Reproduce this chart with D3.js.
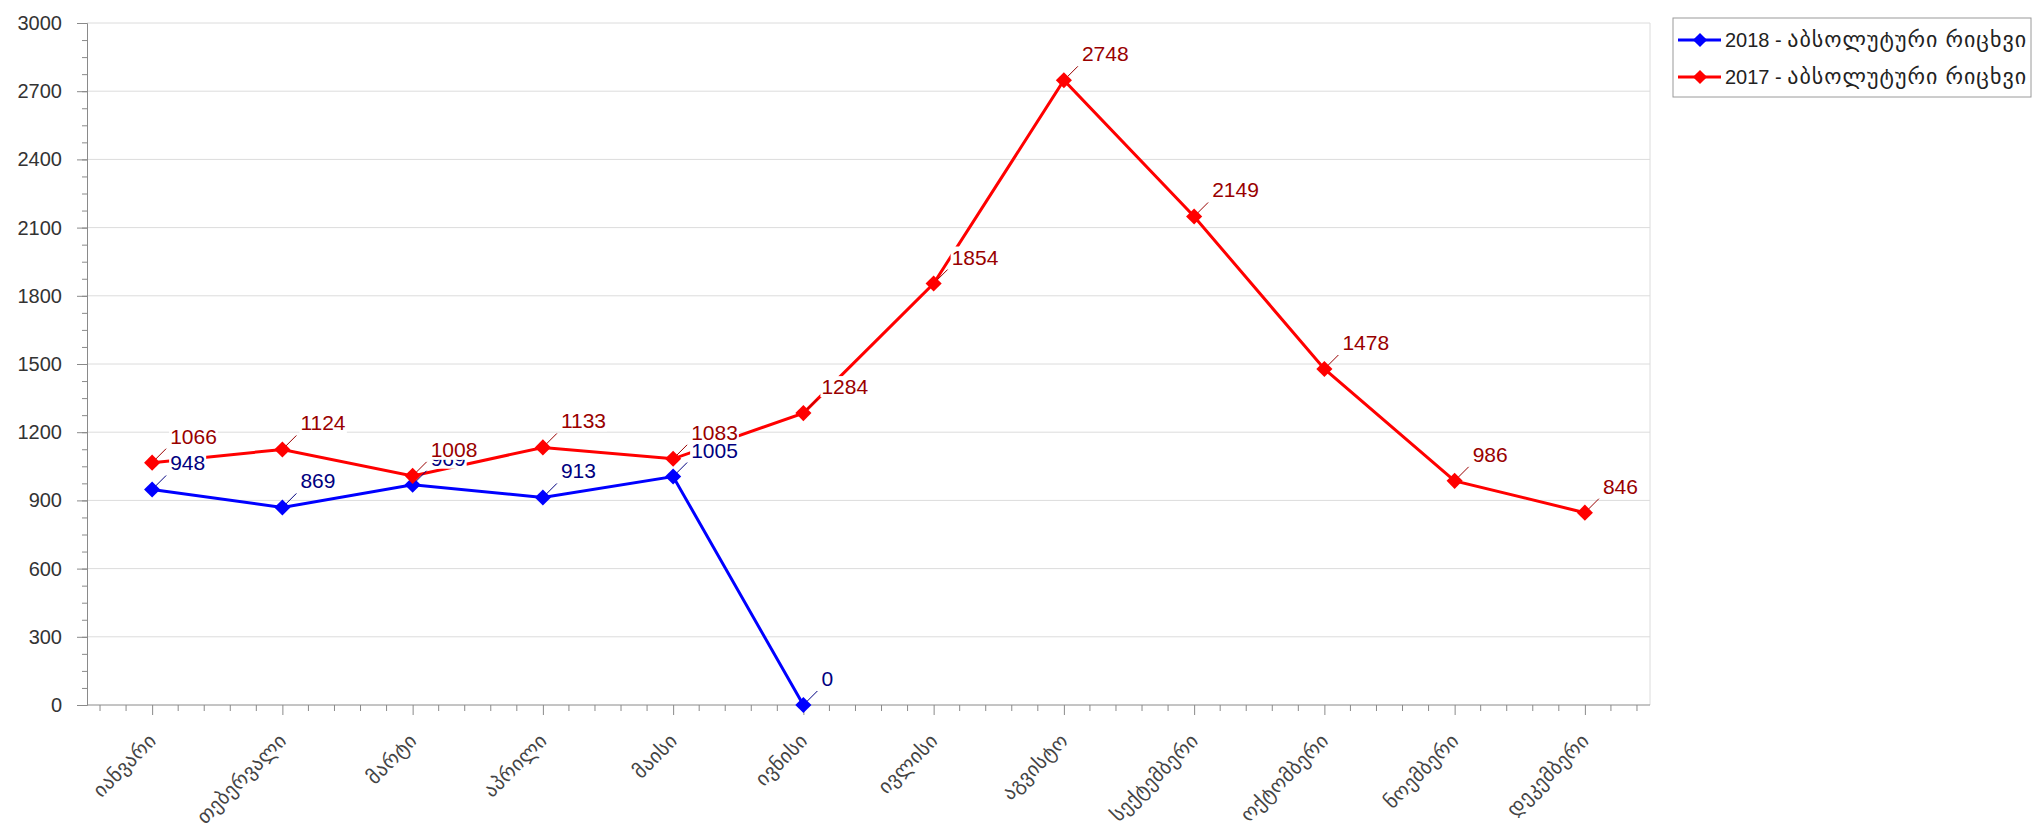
<!DOCTYPE html>
<html>
<head>
<meta charset="utf-8">
<script src="https://cdn.jsdelivr.net/npm/d3@7"></script>
<style>
  body { margin: 0; background: #fff; }
  svg text { font-family: "Liberation Sans", "DejaVu Sans", sans-serif; }
  .axis path, .axis line { stroke: #8a8a8a; }
  .grid-line { stroke: #dcdcdc; }
</style>
</head>
<body>
<script>
const width = 2033, height = 829;
const margin = {top: 23, right: 383, bottom: 124, left: 87};

const categories = ['იანვარი', 'თებერვალი', 'მარტი', 'აპრილი', 'მაისი', 'ივნისი',
    'ივლისი', 'აგვისტო', 'სექტემბერი', 'ოქტომბერი', 'ნოემბერი', 'დეკემბერი'];
const values2018 = [948, 869, 969, 913, 1005, 0];
const values2017 = [1066, 1124, 1008, 1133, 1083, 1284, 1854, 2748, 2149, 1478, 986, 846];
const yTicks = [0, 300, 600, 900, 1200, 1500, 1800, 2100, 2400, 2700, 3000];
const seriesYears = ['2018', '2017'];
const seriesSuffix = 'აბსოლუტური რიცხვი';

const series = [
    {year: seriesYears[0], values: values2018, color: '#0000ff', labelColor: '#000080'},
    {year: seriesYears[1], values: values2017, color: '#ff0000', labelColor: '#990000'}
];

const svg = d3.select('body').append('svg')
    .attr('width', width)
    .attr('height', height);

const x = d3.scalePoint().domain(categories)
    .range([margin.left, width - margin.right]).padding(0.5);
const y = d3.scaleLinear().domain([0, 3000]).range([height - margin.bottom, margin.top]);

// gridlines
svg.append('g').selectAll('line')
    .data(yTicks.slice(1))
    .join('line')
    .classed('grid-line', true)
    .attr('x1', margin.left).attr('x2', width - margin.right)
    .attr('y1', d => y(d)).attr('y2', d => y(d));

svg.append('line')
    .classed('grid-line', true)
    .attr('x1', width - margin.right).attr('x2', width - margin.right)
    .attr('y1', margin.top).attr('y2', height - margin.bottom);

// y axis: minor then major
svg.append('g')
    .attr('class', 'axis')
    .attr('transform', 'translate(' + margin.left + ',0)')
    .call(d3.axisLeft(y).tickValues(d3.range(0, 3001, 75)).tickSize(5).tickSizeOuter(0).tickFormat(''));

const yAxis = svg.append('g')
    .attr('class', 'axis')
    .attr('transform', 'translate(' + margin.left + ',0)')
    .call(d3.axisLeft(y).tickValues(yTicks).tickSize(10).tickSizeOuter(0).tickPadding(15).tickFormat(d3.format('d')));
yAxis.selectAll('text')
    .attr('fill', '#333')
    .style('font-size', '20px');

// x axis: minor ticks at fifths of a step
const step = x.step();
const minorX = [];
categories.forEach(c => {
    [-2, -1, 1, 2].forEach(k => minorX.push(x(c) + k * step / 5));
});
svg.append('g')
    .attr('class', 'axis')
    .selectAll('line')
    .data(minorX)
    .join('line')
    .attr('x1', d => d).attr('x2', d => d)
    .attr('y1', y(0)).attr('y2', y(0) + 6);

const xAxis = svg.append('g')
    .attr('class', 'axis')
    .attr('transform', 'translate(0,' + y(0) + ')')
    .call(d3.axisBottom(x).tickSize(10).tickSizeOuter(0));
xAxis.select('.domain').attr('d', 'M' + margin.left + ',0H' + (width - margin.right));
xAxis.selectAll('text')
    .attr('fill', '#444')
    .attr('x', 0).attr('y', 0).attr('dy', 0)
    .style('font-size', '20px')
    .style('letter-spacing', '0.3px')
    .style('text-anchor', 'end')
    .attr('transform', 'translate(5,37) rotate(-45)');

// lines
const line = d3.line()
    .x((d, i) => x(categories[i]))
    .y(d => y(d));

series.forEach(s => {
    svg.append('path')
        .datum(s.values)
        .attr('fill', 'none')
        .attr('stroke', s.color)
        .attr('stroke-width', 3)
        .attr('d', line);
});

// labels with white background and leader lines
series.forEach(s => {
    const g = svg.append('g');
    s.values.forEach((v, i) => {
        const px = x(categories[i]), py = y(v);
        g.append('line')
            .attr('x1', px + 3).attr('y1', py - 3)
            .attr('x2', px + 14).attr('y2', py - 14)
            .attr('stroke', s.labelColor)
            .attr('stroke-width', 1);
        const lg = g.append('g');
        const t = lg.append('text')
            .attr('x', px + 18)
            .attr('y', py - 19)
            .attr('fill', s.labelColor)
            .style('font-size', '21px')
            .text(v);
        const b = t.node().getBBox();
        lg.insert('rect', 'text')
            .attr('x', b.x - 1).attr('y', b.y + 1)
            .attr('width', b.width + 2).attr('height', b.height - 2)
            .attr('fill', '#fff');
    });
});

// markers: squares turned 45 degrees
const diamond = d3.symbol().type(d3.symbolSquare).size(130);
series.forEach(s => {
    svg.append('g').selectAll('path')
        .data(s.values)
        .join('path')
        .attr('d', diamond)
        .attr('fill', s.color)
        .attr('transform', (d, i) => 'translate(' + x(categories[i]) + ',' + y(d) + ') rotate(45)');
});

// legend
const legend = svg.append('g').attr('transform', 'translate(1673,18)');
legend.append('rect')
    .attr('width', 358).attr('height', 79)
    .attr('fill', '#fff')
    .attr('stroke', '#9a9a9a');
series.forEach((s, i) => {
    const row = legend.append('g').attr('transform', 'translate(0,' + (22 + i * 37) + ')');
    row.append('line')
        .attr('x1', 5).attr('x2', 48)
        .attr('stroke', s.color).attr('stroke-width', 3);
    row.append('path')
        .attr('d', d3.symbol().type(d3.symbolSquare).size(100))
        .attr('fill', s.color)
        .attr('transform', 'translate(27,0) rotate(45)');
    const t = row.append('text')
        .attr('x', 52).attr('y', 7)
        .attr('fill', '#222')
        .style('font-size', '20px');
    t.append('tspan').text(s.year + ' - ');
    t.append('tspan')
        .style('font-size', '22px')
        .style('letter-spacing', '1px')
        .text(seriesSuffix);
});
</script>
</body>
</html>
